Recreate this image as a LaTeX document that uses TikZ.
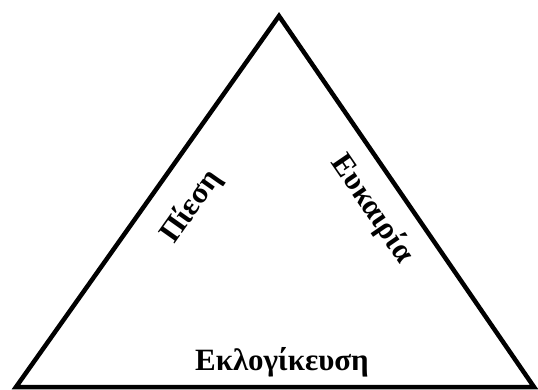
\documentclass[tikz,border=0pt]{standalone}
\usepackage{fontspec}
\setmainfont{Liberation Serif}
\usepackage{tikz}
\usetikzlibrary{calc}
\tikzset{side/.style={line width=4.5pt,line join=miter},
  lbl/.style={font=\fontsize{31}{35}\selectfont\bfseries,inner sep=0pt}}

\begin{document}
\begin{tikzpicture}[x=1pt,y=-1pt]
\useasboundingbox (0,0) rectangle (538,390);
% --- fraud triangle
\coordinate (bl) at (16,387);
\coordinate (top) at (279,16);
\coordinate (br) at (534,387);
\draw[side] (bl) -- (top) -- (br) -- cycle;
% --- the three labels
\node[lbl,rotate=54.7] (piesi) at (191,207) {Πίεση};
\node[lbl,rotate=-55.6] (eukairia) at (372,209) {Ευκαιρία};
\node[lbl,anchor=base] (eklog) at (282,370) {Εκλογίκευση};
\end{tikzpicture}
\end{document}
